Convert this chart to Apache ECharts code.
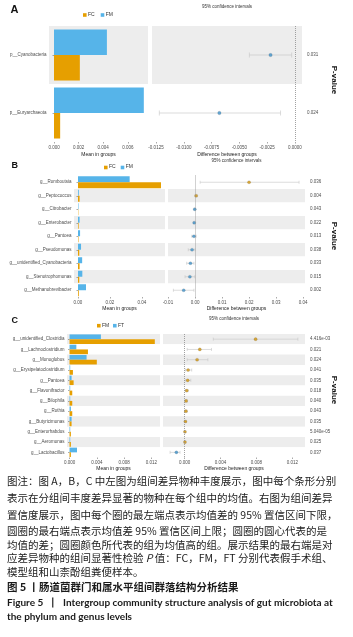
<!DOCTYPE html>
<html><head><meta charset="utf-8">
<script src="https://cdn.jsdelivr.net/npm/echarts@6/dist/echarts.min.js"></script>
<style>html,body{margin:0;padding:0;background:#fff}#c{width:353px;height:637px}</style>
</head><body><div id="c"></div>
<script>
// ---------- Panel A (rows listed top to bottom) ----------
const aCats = ['p__Cyanobacteria', 'p__Euryarchaeota'];
const aFC = [0.0021, 0.0005];
const aFM = [0.0043, 0.0073];
const aDiff = [-0.0022, -0.0068];
const aLow = [-0.0041, -0.0122];
const aHigh = [-0.0003, -0.0013];
const aWinner = ['FM', 'FM'];
const aP = ['0.031', '0.024'];
const aMeanTicks = [0, 0.002, 0.004, 0.006];
const aDiffTicks = [-0.0125, -0.01, -0.0075, -0.005, -0.0025, 0];

// ---------- Panel B ----------
const bCats = ['g__Romboutsia', 'g__Peptococcus', 'g__Citrobacter', 'g__Enterobacter', 'g__Pantoea',
  'g__Pseudomonas', 'g__unidentified_Cyanobacteria', 'g__Stenotrophomonas', 'g__Methanobrevibacter'];
const bFC = [0.0519, 0.0010, 0.0002, 0.0004, 0.0003, 0.0008, 0.0010, 0.0008, 0.0005];
const bFM = [0.0323, 0.0005, 0.0003, 0.0010, 0.0013, 0.0019, 0.0026, 0.0027, 0.0050];
const bDiff = [0.0200, 0.0004, -0.0001, -0.0003, -0.0004, -0.0011, -0.0017, -0.0019, -0.0042];
const bLow = [0.0019, 0.0001, -0.0003, -0.0006, -0.0012, -0.0025, -0.0031, -0.0037, -0.0080];
const bHigh = [0.0385, 0.0008, 0.0001, 0.0000, 0.0004, 0.0000, -0.0004, -0.0001, -0.0004];
const bWinner = ['FC', 'FC', 'FM', 'FM', 'FM', 'FM', 'FM', 'FM', 'FM'];
const bP = ['0.036', '0.004', '0.043', '0.022', '0.013', '0.038', '0.033', '0.015', '0.002'];
const bMeanTicks = [0, 0.02, 0.04];
const bDiffTicks = [-0.01, 0, 0.01, 0.02, 0.03, 0.04];

// ---------- Panel C ----------
const cCats = ['g__unidentified_Clostridia', 'g__Lachnoclostridium', 'g__Monoglobus', 'g__Erysipelatoclostridium',
  'g__Pantoea', 'g__Flavonifractor', 'g__Bilophila', 'g__Rothia', 'g__Butyricimonas', 'g__Enterorhabdus',
  'g__Aeromonas', 'g__Lactobacillus'];
const cFM = [0.0125, 0.0027, 0.0040, 0.0005, 0.0006, 0.0004, 0.0004, 0.0004, 0.0003, 0.0002, 0.0002, 0.0002];
const cFT = [0.0046, 0.0010, 0.0025, 0.0001, 0.0003, 0.0001, 0.0001, 0.0002, 0.0003, 0.0001, 0.0001, 0.0011];
const cDiff = [0.0079, 0.0017, 0.0014, 0.0004, 0.00035, 0.00025, 0.00018, 0.00015, 0.0001, 0.00005, 0.00005, -0.0009];
const cLow = [0.0032, 0.0003, 0.0003, 0.0001, 0.0001, 0.0001, 0.00005, 0.00005, 0.0000, 0.0000, 0.0000, -0.0016];
const cHigh = [0.0126, 0.0030, 0.0026, 0.0008, 0.0007, 0.0004, 0.0003, 0.0003, 0.0002, 0.0001, 0.0001, -0.0005];
const cWinner = ['FM', 'FM', 'FM', 'FM', 'FM', 'FM', 'FM', 'FM', 'FM', 'FM', 'FM', 'FT'];
const cP = ['4.416e-03', '0.021', '0.024', '0.041', '0.035', '0.018', '0.040', '0.043', '0.035', '5.040e-05', '0.025', '0.037'];
const cMeanTicks = [0, 0.004, 0.008, 0.012];
const cDiffTicks = [0, 0.004, 0.008, 0.012];

const caption = [
  '图注：图 A，B，C 中左图为组间差异物种丰度展示，图中每个条形分别',
  '表示在分组间丰度差异显著的物种在每个组中的均值。右图为组间差异',
  '置信度展示，图中每个圈的最左端点表示均值差的 95% 置信区间下限，',
  '圆圈的最右端点表示均值差 95% 置信区间上限；圆圈的圆心代表的是',
  '均值的差；圆圈颜色所代表的组为均值高的组。展示结果的最右端是对',
  '应差异物种的组间显著性检验 {i|P} 值：FC，FM，FT 分别代表假手术组、',
  '模型组和山柰酚组粪便样本。'
];
const figTitle = '图 5 丨肠道菌群门和属水平组间群落结构分析结果';
const figTitleEn = ['Figure 5  丨  Intergroup community structure analysis of gut microbiota at', 'the phylum and genus levels'];

// ---------- styling ----------
const ORANGE = '#E69F00', BLUE = '#56B4E9';
const ORANGE_PT = '#cf940d', BLUE_PT = '#3f91c8';
const GRAY = '#ededed', WHITE = '#ffffff';
const FONT = 'Liberation Sans, Arial, sans-serif';
const CJK = 'Noto Sans CJK SC';

const grid = [], xAxis = [], yAxis = [], series = [], graphic = [];

function panel(p) {
  const n = p.cats.length;
  const bandColors = n % 2 === 0 ? [GRAY, WHITE] : [WHITE, GRAY];
  const gL = grid.length;
  grid.push({left: p.L[0], width: p.L[1] - p.L[0], top: p.top, height: p.bottom - p.top, containLabel: false, outerBoundsMode: 'none'});
  grid.push({left: p.R[0], width: p.R[1] - p.R[0], top: p.top, height: p.bottom - p.top, containLabel: false, outerBoundsMode: 'none'});
  const xL = xAxis.length;
  const xBase = {
    type: 'value', axisLine: {show: false}, splitLine: {show: false},
    nameLocation: 'middle', nameTextStyle: {fontSize: 5, color: '#222', fontFamily: FONT}
  };
  xAxis.push(Object.assign({}, xBase, {
    gridIndex: gL, min: p.meanMin, max: p.meanMax, name: 'Mean in groups', nameGap: p.nameGap,
    axisLabel: {customValues: p.meanTicks, formatter: v => v.toFixed(p.meanDec), fontSize: 4.5, color: '#4d4d4d', margin: 3, fontFamily: FONT},
    axisTick: {show: true, customValues: p.meanTicks, length: 1.5, lineStyle: {color: '#555', width: 0.5}}
  }));
  xAxis.push(Object.assign({}, xBase, {
    gridIndex: gL + 1, min: p.diffMin, max: p.diffMax, name: 'Difference between groups', nameGap: p.nameGap,
    axisLabel: {customValues: p.diffTicks, formatter: v => v.toFixed(p.diffDec), fontSize: 4.5, color: '#4d4d4d', margin: 3, fontFamily: FONT},
    axisTick: {show: true, customValues: p.diffTicks, length: 1.5, lineStyle: {color: '#555', width: 0.5}}
  }));
  const yL = yAxis.length;
  yAxis.push({
    gridIndex: gL, type: 'category', data: p.cats, inverse: true,
    axisLine: {show: false},
    axisTick: {show: true, alignWithLabel: true, length: 1.5, lineStyle: {color: '#555', width: 0.5}},
    axisLabel: {interval: 0, fontSize: 4.5, color: '#4d4d4d', margin: 2.5, fontFamily: FONT},
    splitLine: {show: false},
    splitArea: {show: true, interval: 0, areaStyle: {color: bandColors}}
  });
  yAxis.push({
    gridIndex: gL + 1, type: 'category', data: p.cats, inverse: true,
    axisLine: {show: false}, axisTick: {show: false}, axisLabel: {show: false}, splitLine: {show: false},
    splitArea: {show: true, interval: 0, areaStyle: {color: bandColors}}
  });
  yAxis.push({
    gridIndex: gL + 1, type: 'category', data: p.pvals, inverse: true, position: 'right',
    axisLine: {show: false}, axisTick: {show: false}, splitLine: {show: false}, splitArea: {show: false},
    axisLabel: {interval: 0, fontSize: 4.5, color: '#4d4d4d', margin: p.pMargin, fontFamily: FONT}
  });
  // bars: top bar of each row first
  p.bars.forEach(b => {
    series.push({
      type: 'bar', name: b.name, xAxisIndex: xL, yAxisIndex: yL, data: b.data,
      itemStyle: {color: b.color}, barGap: '0%', barCategoryGap: p.gap, silent: true
    });
  });
  // error bars
  const cap = p.cap;
  series.push({
    type: 'custom', xAxisIndex: xL + 1, yAxisIndex: yL + 1, silent: true, z: 2,
    data: p.diff.map((d, i) => [p.low[i], p.high[i], i]),
    renderItem: function (params, api) {
      const a = api.coord([api.value(0), api.value(2)]);
      const b = api.coord([api.value(1), api.value(2)]);
      const st = {stroke: '#c4c4c4', lineWidth: 0.6};
      return {type: 'group', children: [
        {type: 'line', shape: {x1: a[0], y1: a[1], x2: b[0], y2: b[1]}, style: st},
        {type: 'line', shape: {x1: a[0], y1: a[1] - cap, x2: a[0], y2: a[1] + cap}, style: st},
        {type: 'line', shape: {x1: b[0], y1: b[1] - cap, x2: b[0], y2: b[1] + cap}, style: st}
      ]};
    }
  });
  series.push({
    type: 'scatter', xAxisIndex: xL + 1, yAxisIndex: yL + 1, silent: true, z: 3,
    symbolSize: p.pt,
    data: p.diff.map((d, i) => ({value: [d, i], itemStyle: {color: p.ptColor[p.winner[i]], borderColor: 'rgba(60,60,60,0.5)', borderWidth: 0.3}})),
    markLine: {silent: true, symbol: 'none', label: {show: false}, animation: false,
      lineStyle: {type: [1, 1], color: '#8a8a8a', width: 0.8}, data: [{xAxis: 0}]}
  });
  // legend
  p.legend.forEach(l => {
    graphic.push({type: 'rect', left: l.x, top: p.legY - 1.8, shape: {width: 3.6, height: 3.6}, style: {fill: l.color}});
    graphic.push({type: 'text', left: l.x + 5, top: p.legY - 3, style: {text: l.name, fontSize: 5, fill: '#333', fontFamily: FONT}});
  });
  graphic.push({type: 'text', x: p.letter[0], y: p.letter[1], style: {text: p.letterText, fontSize: p.letterSize, fontWeight: 'bold', fill: '#111', fontFamily: FONT, textVerticalAlign: 'top'}});
  graphic.push({type: 'text', x: (p.R[0] + p.R[1]) / 2, y: p.ciY, style: {text: '95% confidence intervals', fontSize: 4.5, fill: '#333', fontFamily: FONT, textAlign: 'center', textVerticalAlign: 'middle'}});
  graphic.push({type: 'text', x: 334, y: p.pvY, rotation: -Math.PI / 2, style: {text: 'P-value', fontSize: 8, fontWeight: 'bold', fill: '#111', fontFamily: FONT, textAlign: 'center', textVerticalAlign: 'middle'}});
}

panel({
  cats: aCats, pvals: aP, diff: aDiff, low: aLow, high: aHigh, winner: aWinner,
  L: [49, 148], R: [152, 302], top: 26, bottom: 142,
  meanMin: -0.000407, meanMax: 0.00764, meanTicks: aMeanTicks, meanDec: 3,
  diffMin: -0.01286, diffMax: 0.00063, diffTicks: aDiffTicks, diffDec: 4,
  nameGap: 10, pMargin: 5, gap: '12%', cap: 2.5, pt: 3.5,
  bars: [{name: 'FM', data: aFM, color: BLUE}, {name: 'FC', data: aFC, color: ORANGE}],
  ptColor: {FC: ORANGE_PT, FM: BLUE_PT},
  legend: [{x: 83, name: 'FC', color: ORANGE}, {x: 100.7, name: 'FM', color: BLUE}], legY: 15,
  letter: [10.5, 4], letterText: 'A', letterSize: 11, ciY: 7, pvY: 80
});
panel({
  cats: bCats, pvals: bP, diff: bDiff, low: bLow, high: bHigh, winner: bWinner,
  L: [74, 165], R: [168, 305], top: 175.5, bottom: 297,
  meanMin: -0.0025, meanMax: 0.0544, meanTicks: bMeanTicks, meanDec: 2,
  diffMin: -0.01, diffMax: 0.0407, diffTicks: bDiffTicks, diffDec: 2,
  nameGap: 8.5, pMargin: 5, gap: '11%', cap: 1.5, pt: 3.2,
  bars: [{name: 'FM', data: bFM, color: BLUE}, {name: 'FC', data: bFC, color: ORANGE}],
  ptColor: {FC: ORANGE_PT, FM: BLUE_PT},
  legend: [{x: 104, name: 'FC', color: ORANGE}, {x: 120.7, name: 'FM', color: BLUE}], legY: 167.5,
  letter: [11.5, 161.5], letterText: 'B', letterSize: 9, ciY: 160.7, pvY: 236
});
panel({
  cats: cCats, pvals: cP, diff: cDiff, low: cLow, high: cHigh, winner: cWinner,
  L: [67, 160], R: [163, 305], top: 334, bottom: 457.5,
  meanMin: -0.00037, meanMax: 0.01326, meanTicks: cMeanTicks, meanDec: 3,
  diffMin: -0.00239, diffMax: 0.01339, diffTicks: cDiffTicks, diffDec: 3,
  nameGap: 8, pMargin: 5, gap: '8%', cap: 1.5, pt: 3.2,
  bars: [{name: 'FT', data: cFT, color: BLUE}, {name: 'FM', data: cFM, color: ORANGE}],
  ptColor: {FM: ORANGE_PT, FT: BLUE_PT},
  legend: [{x: 97, name: 'FM', color: ORANGE}, {x: 113, name: 'FT', color: BLUE}], legY: 325.7,
  letter: [11.5, 316], letterText: 'C', letterSize: 9, ciY: 319, pvY: 390
});

// caption
const capY = [481.3, 498.3, 515.5, 530.8, 545, 558.3, 572];
caption.forEach((t, i) => {
  graphic.push({type: 'text', x: 7, y: capY[i], style: {text: t, fontSize: 10.5, fill: '#1a1a1a', fontFamily: CJK, textVerticalAlign: 'middle',
    rich: {i: {fontStyle: 'italic', fontSize: 10.5, fontFamily: CJK, fill: '#1a1a1a'}}}});
});
graphic.push({type: 'text', x: 7, y: 586.7, style: {text: figTitle, fontSize: 10.5, fontWeight: 'bold', fill: '#1a1a1a', fontFamily: CJK, textVerticalAlign: 'middle'}});
graphic.push({type: 'text', x: 7, y: 602.3, style: {text: figTitleEn[0], fontSize: 10, fontWeight: 'bold', fill: '#1a1a1a', fontFamily: 'Lato', textVerticalAlign: 'middle'}});
graphic.push({type: 'text', x: 7, y: 616.3, style: {text: figTitleEn[1], fontSize: 10, fontWeight: 'bold', fill: '#1a1a1a', fontFamily: 'Lato', textVerticalAlign: 'middle'}});

const chart = echarts.init(document.getElementById('c'), null, {renderer: 'canvas'});
chart.setOption({
  animation: false, backgroundColor: '#ffffff',
  grid, xAxis, yAxis, series, graphic
});
</script></body></html>
